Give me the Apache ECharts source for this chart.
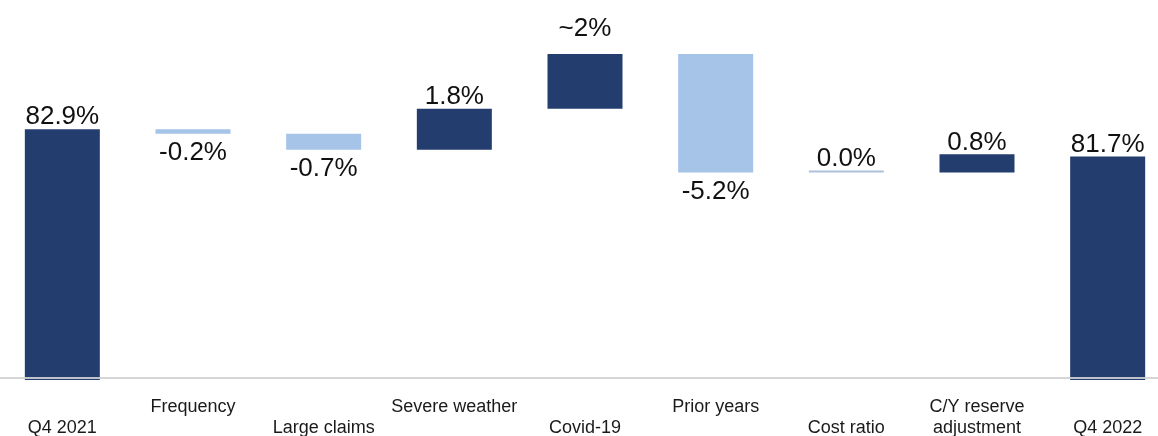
<!DOCTYPE html>
<html>
<head>
<meta charset="utf-8">
<script src="https://cdn.jsdelivr.net/npm/echarts@6/dist/echarts.min.js"></script>
<style>
  html, body { margin: 0; padding: 0; background: #ffffff; }
  #chart { width: 1158px; height: 436px; }
</style>
</head>
<body>
<div id="chart"></div>
<script>
// Combined ratio bridge, Q4 2021 -> Q4 2022 (in %)
const categories = ['Q4 2021', 'Frequency', 'Large claims', 'Severe weather', 'Covid-19',
                    'Prior years', 'Cost ratio', 'C/Y reserve\nadjustment', 'Q4 2022'];
const changes = [82.9, -0.2, -0.7, 1.8, 2.4, -5.2, 0.0, 0.8, 81.7];
const isTotal = [true, false, false, false, false, false, false, false, true];
const valueLabels = ['82.9%', '-0.2%', '-0.7%', '1.8%', '~2%', '-5.2%', '0.0%', '0.8%', '81.7%'];

const DARK = '#233d6e';
const LIGHT = '#a6c4e8';
const ZERO = '#aebfdc';
const FONT = '"Liberation Sans", Arial, sans-serif';

// Waterfall: an invisible base bar under each visible step
const baseData = [];
const stepData = [];
let running = 0;
changes.forEach((v, i) => {
  let low, h, color, pos, dist;
  if (isTotal[i]) {
    low = 0; h = v; running = v; color = DARK; pos = 'top'; dist = -1;
  } else {
    low = Math.min(running, running + v);
    h = Math.abs(v);
    running += v;
    if (v > 0) { color = DARK; pos = 'top'; dist = -1.5; }
    else if (v < 0) { color = LIGHT; pos = 'bottom'; dist = 6; }
    else { color = ZERO; pos = 'top'; dist = -1.5; }
  }
  if (valueLabels[i].startsWith('~')) dist = 12.5;
  baseData.push(low);
  stepData.push({
    value: h,
    itemStyle: { color: color },
    label: { position: pos, distance: dist, formatter: valueLabels[i] }
  });
});

const chart = echarts.init(document.getElementById('chart'));
chart.setOption({
  animation: false,
  backgroundColor: '#ffffff',
  grid: {
    left: -3, right: -15, top: 13, bottom: 56,
    containLabel: false,
    outerBoundsMode: 'none'
  },
  xAxis: {
    type: 'category',
    data: categories,
    axisLine: { show: false },
    axisTick: { show: false },
    axisLabel: {
      interval: 0,
      margin: 17,
      fontSize: 18,
      lineHeight: 20.5,
      color: '#1a1a1a',
      fontFamily: FONT,
      hideOverlap: false,
      formatter: (val, idx) => (idx % 2 === 0 ? '\n' + val : val)
    }
  },
  yAxis: {
    type: 'value',
    min: 71.9,
    max: 88,
    show: false,
    splitLine: { show: false }
  },
  series: [
    {
      type: 'bar',
      stack: 'bridge',
      data: baseData,
      barWidth: 75,
      itemStyle: { color: 'rgba(0,0,0,0)' },
      silent: true
    },
    {
      type: 'bar',
      stack: 'bridge',
      data: stepData,
      barWidth: 75,
      barMinHeight: 2,
      label: {
        show: true,
        fontSize: 26,
        color: '#111111',
        fontFamily: FONT
      },
      markLine: {
        silent: true,
        symbol: 'none',
        label: { show: false },
        lineStyle: { color: '#d2d2d2', width: 2, type: 'solid', opacity: 0.9 },
        data: [{ yAxis: 72.02 }],
        z: 10
      }
    }
  ]
});
</script>
</body>
</html>
